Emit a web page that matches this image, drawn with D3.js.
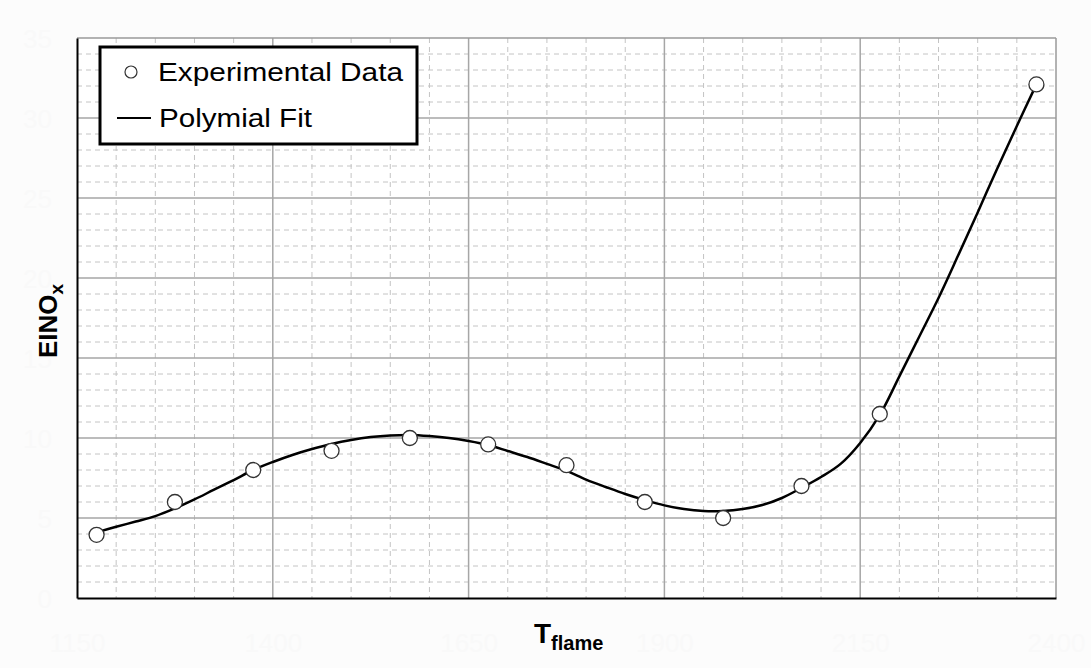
<!DOCTYPE html>
<html>
<head>
<meta charset="utf-8">
<script src="https://cdn.jsdelivr.net/npm/d3@7"></script>
<style>
  html, body { margin: 0; padding: 0; background: #fcfcfc; }
  svg { display: block; }
</style>
</head>
<body>
<svg id="chart" width="1091" height="668"></svg>
<script>
// ---- data ----
const expT = [1175, 1275, 1375, 1475, 1575, 1675, 1775, 1875, 1975, 2075, 2175, 2375];
const expEINOx = [3.95, 6.0, 8.0, 9.2, 10.0, 9.6, 8.3, 6.0, 5.0, 7.0, 11.5, 32.1];

const fitT = [1175, 1200, 1225, 1250, 1275, 1300, 1325, 1350, 1375, 1400, 1425, 1450, 1475, 1500,
              1525, 1550, 1575, 1600, 1625, 1650, 1675, 1700, 1725, 1750, 1775, 1800, 1825, 1850,
              1875, 1900, 1925, 1950, 1975, 2000, 2025, 2050, 2075, 2100, 2125, 2150, 2175, 2200,
              2225, 2250, 2275, 2300, 2325, 2350, 2375];
const fitEINOx = [4.1, 4.45, 4.78, 5.12, 5.6, 6.16, 6.77, 7.37, 8.0, 8.5, 8.94, 9.31, 9.63, 9.88,
                  10.06, 10.16, 10.19, 10.12, 10.0, 9.81, 9.56, 9.19, 8.81, 8.38, 7.94, 7.4, 6.94, 6.5,
                  6.12, 5.79, 5.56, 5.44, 5.44, 5.56, 5.81, 6.25, 6.88, 7.56, 8.38, 9.69, 11.44, 13.85,
                  16.3, 18.75, 21.4, 24.1, 26.85, 29.5, 32.1];

const xTicks = [1150, 1400, 1650, 1900, 2150, 2400];
const yTicks = [0, 5, 10, 15, 20, 25, 30, 35];

// ---- layout ----
const svg = d3.select("#chart");
const L = 77, R = 1056, T = 38, B = 598;

const x = d3.scaleLinear().domain([1150, 2400]).range([L, R]);
const y = d3.scaleLinear().domain([0, 35]).range([B, T]);

// plot background
svg.append("rect").attr("x", L).attr("y", T).attr("width", R - L).attr("height", B - T).attr("fill", "#ffffff");

// minor grid
const xMinor = d3.range(1150, 2401, 50).filter(v => !xTicks.includes(v));
const yMinor = d3.range(0, 35.01, 1).filter(v => !yTicks.includes(v));
const grid = svg.append("g");
grid.selectAll(".vmin").data(xMinor).join("line")
  .attr("x1", d => x(d)).attr("x2", d => x(d)).attr("y1", T).attr("y2", B)
  .attr("stroke", "#c4c4c4").attr("stroke-width", 1).attr("stroke-dasharray", "5,4");
grid.selectAll(".hmin").data(yMinor).join("line")
  .attr("x1", L).attr("x2", R).attr("y1", d => y(d)).attr("y2", d => y(d))
  .attr("stroke", "#c4c4c4").attr("stroke-width", 1).attr("stroke-dasharray", "5,4");
// major grid
grid.selectAll(".vmaj").data(xTicks.slice(1, -1)).join("line")
  .attr("x1", d => x(d)).attr("x2", d => x(d)).attr("y1", T).attr("y2", B)
  .attr("stroke", "#a6a6a6").attr("stroke-width", 1.5);
grid.selectAll(".hmaj").data(yTicks.slice(1, -1)).join("line")
  .attr("x1", L).attr("x2", R).attr("y1", d => y(d)).attr("y2", d => y(d))
  .attr("stroke", "#a6a6a6").attr("stroke-width", 1.5);

// frame: top/right gray, left/bottom black
svg.append("line").attr("x1", L).attr("x2", R).attr("y1", T).attr("y2", T).attr("stroke", "#9a9a9a").attr("stroke-width", 1.5);
svg.append("line").attr("x1", R).attr("x2", R).attr("y1", T).attr("y2", B).attr("stroke", "#9a9a9a").attr("stroke-width", 1.5);

// axes (nearly invisible tick labels, as in the reference)
const xAxis = d3.axisBottom(x).tickValues(xTicks).tickSize(0).tickPadding(0).tickFormat(d3.format("d"));
const gx = svg.append("g").attr("transform", `translate(0,${B})`).call(xAxis);
gx.select(".domain").attr("stroke", "#000").attr("stroke-width", 2);
gx.selectAll("text").attr("dy", null).attr("y", 54).attr("fill", "#f9f9f9")
  .style("font-family", "Liberation Sans, Arial, sans-serif").style("font-size", "26px");

const yAxis = d3.axisLeft(y).tickValues(yTicks).tickSize(0).tickPadding(0).tickFormat(d3.format("d"));
const gy = svg.append("g").attr("transform", `translate(${L},0)`).call(yAxis);
gy.select(".domain").attr("stroke", "#000").attr("stroke-width", 2);
gy.selectAll("text").attr("x", -25).attr("dy", "0.35em").attr("fill", "#f9f9f9")
  .style("font-family", "Liberation Sans, Arial, sans-serif").style("font-size", "26px");

// fit line
const fitData = fitT.map((t, i) => [t, fitEINOx[i]]);
svg.append("path").datum(fitData)
  .attr("d", d3.line().x(d => x(d[0])).y(d => y(d[1])).curve(d3.curveCatmullRom))
  .attr("fill", "none").attr("stroke", "#000").attr("stroke-width", 2.5);

// experimental points
svg.append("g").selectAll("circle").data(expT.map((t, i) => [t, expEINOx[i]])).join("circle")
  .attr("cx", d => x(d[0])).attr("cy", d => y(d[1])).attr("r", 7.5)
  .attr("fill", "#fff").attr("stroke", "#333").attr("stroke-width", 1.3);

// legend
const lg = svg.append("g");
lg.append("rect").attr("x", 100).attr("y", 47).attr("width", 317).attr("height", 97)
  .attr("fill", "#fff").attr("stroke", "#000").attr("stroke-width", 3);
lg.append("circle").attr("cx", 131).attr("cy", 72).attr("r", 6)
  .attr("fill", "#fff").attr("stroke", "#333").attr("stroke-width", 1.2);
lg.append("text").attr("x", 158).attr("y", 81).text("Experimental Data")
  .attr("textLength", 245).attr("lengthAdjust", "spacingAndGlyphs")
  .style("font-family", "Liberation Sans, Arial, sans-serif").style("font-size", "25px").attr("fill", "#000");
lg.append("line").attr("x1", 117).attr("x2", 151).attr("y1", 118).attr("y2", 118)
  .attr("stroke", "#000").attr("stroke-width", 2);
lg.append("text").attr("x", 159).attr("y", 127).text("Polymial Fit")
  .attr("textLength", 153).attr("lengthAdjust", "spacingAndGlyphs")
  .style("font-family", "Liberation Sans, Arial, sans-serif").style("font-size", "25px").attr("fill", "#000");

// axis titles
const xt = svg.append("text").attr("x", 534).attr("y", 643)
  .style("font-family", "Liberation Sans, Arial, sans-serif").style("font-weight", "bold").attr("fill", "#000");
xt.append("tspan").text("T").style("font-size", "28px");
xt.append("tspan").text("flame").style("font-size", "20px").attr("dy", 7);

const yt = svg.append("text").attr("transform", "translate(57,358) rotate(-90)")
  .style("font-family", "Liberation Sans, Arial, sans-serif").style("font-weight", "bold").attr("fill", "#000");
yt.append("tspan").text("EINO").style("font-size", "26px");
yt.append("tspan").text("x").style("font-size", "19px").attr("dy", 6);
</script>
</body>
</html>
